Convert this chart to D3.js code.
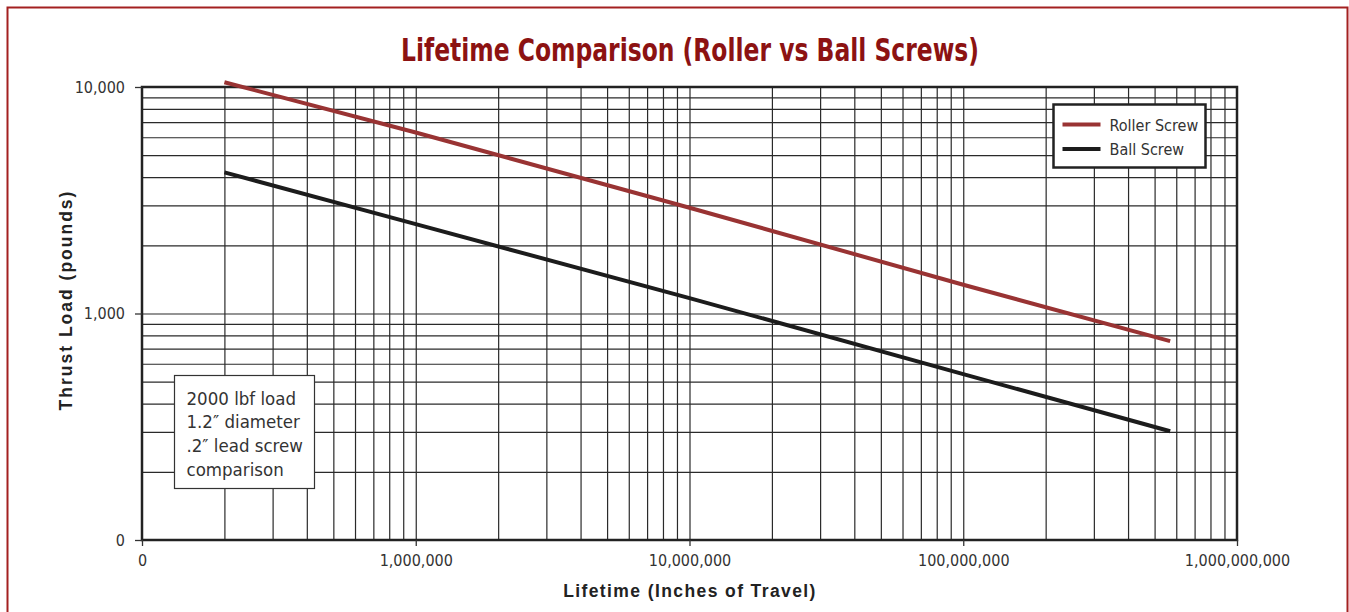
<!DOCTYPE html>
<html>
<head>
<meta charset="utf-8">
<script src="https://cdn.jsdelivr.net/npm/d3@7"></script>
<style>
  body { margin: 0; background: #fff; }
  .tick-label { font-family: "DejaVu Sans Condensed", sans-serif; font-size: 16px; fill: #333; }
  .grid line { stroke: #2a2a2a; stroke-width: 1.2; }
  .grid path { display: none; }
  .axis-title { font-family: "Liberation Sans", Arial, sans-serif; font-weight: bold; font-size: 17.5px; fill: #222; }
  .legend-text, .note-text { font-family: "DejaVu Sans Condensed", sans-serif; fill: #333; }
</style>
</head>
<body>
<div id="chart"></div>
<script>
//DATA
const lifetime   = [200000, 1000000, 10000000, 100000000, 570000000]
const rollerLoad = [10500, 6300, 2930, 1340, 755]
const ballLoad   = [4200, 2480, 1170, 540, 302]
const seriesNames = ["Roller Screw", "Ball Screw"]
const xTickValues = [1e5, 1e6, 1e7, 1e8, 1e9]
const xTickLabels = ["0", "1,000,000", "10,000,000", "100,000,000", "1,000,000,000"]
const yTickValues = [1e2, 1e3, 1e4]
const yTickLabels = ["0", "1,000", "10,000"]
const noteLines = ["2000 lbf load", "1.2\u2033 diameter", ".2\u2033 lead screw", "comparison"]

//MARGIN CONVENTION
var MARGIN = { LEFT: 142, RIGHT: 112, TOP: 87, BOTTOM: 72 }
var CANVAS = { WIDTH: 1349 - MARGIN.LEFT - MARGIN.RIGHT,
               HEIGHT: 612 - MARGIN.TOP - MARGIN.BOTTOM }

const COLORS = { ROLLER: "#993333", BALL: "#1c1c1c", TITLE: "#8c1212", FRAME: "#a32020" }

const svg = d3.select("#chart").append("svg")
  .attr("width", 1349)
  .attr("height", 612)

// red page frame
svg.append("rect")
  .attr("x", 7.5).attr("y", 7.5)
  .attr("width", 1340).attr("height", 620)
  .attr("fill", "none").attr("stroke", COLORS.FRAME).attr("stroke-width", 2)

svg.append("text")
  .text("Lifetime Comparison (Roller vs Ball Screws)")
  .attr("x", 690).attr("y", 61)
  .attr("text-anchor", "middle")
  .attr("textLength", 578)
  .attr("lengthAdjust", "spacingAndGlyphs")
  .style("font-family", "'DejaVu Sans Condensed', sans-serif")
  .style("font-weight", "bold")
  .style("font-size", "32px")
  .style("fill", COLORS.TITLE)

const svgCanvas = svg.append("g")
  .attr("transform", `translate(${MARGIN.LEFT}, ${MARGIN.TOP})`)

//SCALES
let xScale = d3.scaleLog().domain([1e5, 1e9]).range([0, CANVAS.WIDTH])
let yScale = d3.scaleLog().domain([1e2, 1e4]).range([CANVAS.HEIGHT, 0])

// minor + major grid values (2..9 of each decade)
function gridValues(lo, hi) {
  let vals = []
  for (let d = lo; d < hi; d *= 10) {
    for (let k = 2; k <= 10; k++) vals.push(d * k)
  }
  return vals.filter(v => v < hi)
}

// GRID
svgCanvas.append("g").attr("class", "grid")
  .attr("transform", `translate(0, ${CANVAS.HEIGHT})`)
  .call(d3.axisBottom(xScale).tickValues(gridValues(1e5, 1e9)).tickSize(-CANVAS.HEIGHT).tickFormat(""))
svgCanvas.append("g").attr("class", "grid")
  .call(d3.axisLeft(yScale).tickValues(gridValues(1e2, 1e4)).tickSize(-CANVAS.WIDTH).tickFormat(""))

// plot frame
svgCanvas.append("rect")
  .attr("width", CANVAS.WIDTH).attr("height", CANVAS.HEIGHT)
  .attr("fill", "none").attr("stroke", "#222").attr("stroke-width", 2.5)

//AXES
const gAxisX = svgCanvas.append("g")
  .attr("transform", `translate(0, ${CANVAS.HEIGHT})`)
  .call(d3.axisBottom(xScale).tickValues(xTickValues).tickSize(6).tickPadding(9)
    .tickFormat((d, i) => xTickLabels[i]))
const gAxisY = svgCanvas.append("g")
  .call(d3.axisLeft(yScale).tickValues(yTickValues).tickSize(7).tickPadding(10)
    .tickFormat((d, i) => yTickLabels[i]))
;[gAxisX, gAxisY].forEach(g => {
  g.select(".domain").remove()
  g.selectAll("line").attr("stroke", "#333").attr("stroke-width", 1.3)
  g.selectAll("text").attr("class", "tick-label").attr("fill", null)
})

//LABELS
svg.append("text").attr("class", "axis-title")
  .text("Lifetime (Inches of Travel)")
  .attr("x", 690).attr("y", 597).attr("text-anchor", "middle")
  .style("letter-spacing", "1.4px")
svg.append("text").attr("class", "axis-title")
  .text("Thrust Load (pounds)")
  .attr("transform", "translate(72, 300) rotate(-90)")
  .attr("text-anchor", "middle")
  .style("letter-spacing", "2px")

// NOTE BOX
const gNote = svg.append("g").attr("transform", "translate(174.5, 375.5)")
gNote.append("rect").attr("width", 140).attr("height", 113)
  .attr("fill", "#fff").attr("stroke", "#333").attr("stroke-width", 1.2)
gNote.selectAll("text").data(noteLines).join("text")
  .attr("class", "note-text")
  .attr("x", 12).attr("y", (d, i) => 29 + i * 23.7)
  .style("font-size", "18.5px")
  .text(d => d)

// LINES
const line = d3.line()
  .x(d => xScale(d[0]))
  .y(d => yScale(d[1]))

const series = [
  { name: seriesNames[0], values: d3.zip(lifetime, rollerLoad), color: COLORS.ROLLER },
  { name: seriesNames[1], values: d3.zip(lifetime, ballLoad), color: COLORS.BALL }
]

svgCanvas.selectAll(".series").data(series).join("path")
  .attr("class", "series")
  .attr("d", d => line(d.values))
  .attr("fill", "none")
  .attr("stroke", d => d.color)
  .attr("stroke-width", 4)

// LEGEND
const gLegend = svg.append("g").attr("transform", "translate(1053.5, 104.5)")
gLegend.append("rect").attr("width", 152).attr("height", 63)
  .attr("fill", "#fff").attr("stroke", "#222").attr("stroke-width", 2.5)
const legendItem = gLegend.selectAll(".legend-item").data(series).join("g")
  .attr("class", "legend-item")
  .attr("transform", (d, i) => `translate(0, ${20 + i * 24.5})`)
legendItem.append("line")
  .attr("x1", 9).attr("x2", 47)
  .attr("stroke", d => d.color).attr("stroke-width", 4)
legendItem.append("text").attr("class", "legend-text")
  .attr("x", 56).attr("y", 6)
  .style("font-size", "16px")
  .text(d => d.name)
</script>
</body>
</html>
